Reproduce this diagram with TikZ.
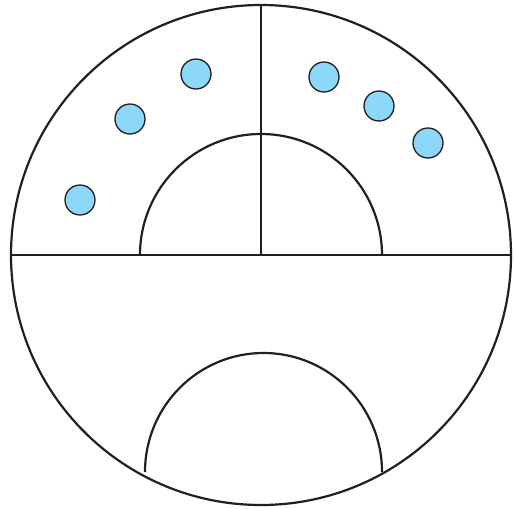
\documentclass[tikz,border=0pt]{standalone}
\definecolor{dotblue}{HTML}{8DD8F8}
\definecolor{ink}{HTML}{231F20}
\begin{document}
\begin{tikzpicture}[x=1pt,y=-1pt,
  lineart/.style={draw=ink,line width=2.2pt},
  bead/.style={circle,draw=ink,line width=1.3pt,fill=dotblue,minimum size=30pt,inner sep=0pt}]
\useasboundingbox (0,0) rectangle (515,509);
\coordinate (C) at (261,255);
\draw[lineart] (C) circle[radius=250];
\draw[lineart] (11,255) -- (511,255);
\draw[lineart] (261,5) -- (C);
\draw[lineart] (140,255) arc[start angle=180,end angle=0,x radius=121,y radius=-121];
\draw[lineart] (145,472) arc[start angle=180,end angle=0,x radius=118.5,y radius=-119];
\node[bead] (b1) at (80,200) {};
\node[bead] (b2) at (130,119) {};
\node[bead] (b3) at (196,74) {};
\node[bead] (b4) at (324,77) {};
\node[bead] (b5) at (379,106) {};
\node[bead] (b6) at (428,143) {};
\end{tikzpicture}
\end{document}
